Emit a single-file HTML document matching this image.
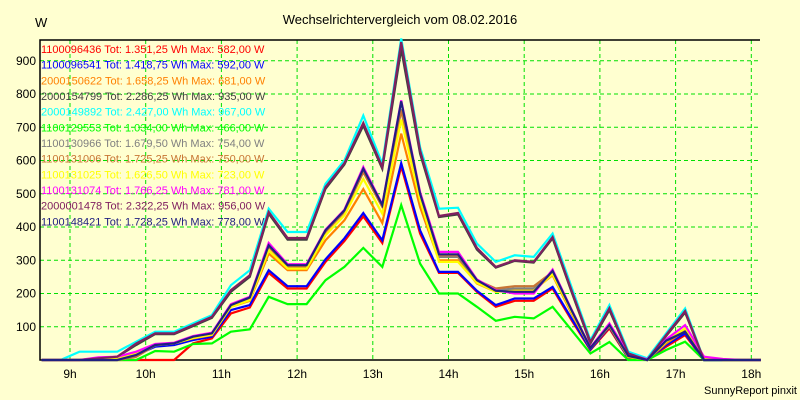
<!DOCTYPE html>
<html><head><meta charset="utf-8"><style>
body{margin:0;background:#ffffd0;}
svg{display:block;font-family:"Liberation Sans",sans-serif;}
</style></head><body>
<svg id="chart" width="800" height="400" viewBox="0 0 800 400">
<rect x="0" y="0" width="800" height="400" fill="#ffffd0"/>
<text x="400" y="24" text-anchor="middle" font-size="13" fill="#000">Wechselrichtervergleich vom 08.02.2016</text>
<text x="35" y="27" font-size="13" fill="#000">W</text>
<text x="797" y="394" text-anchor="end" font-size="11" fill="#000">SunnyReport pinxit</text>
<g id="grid"></g><g id="axes"></g><g id="series"></g><g id="legend"></g>
</svg>
<script>
const hourTicks=[9,10,11,12,13,14,15,16,17,18];
const yTicks=[100,200,300,400,500,600,700,800,900];
const tStart=8.625, tStep=0.25;
const names=["1100096436","1100096541","2000150622","2000154799","2000149892","1100129553","1100130966","1100131006","1100131025","1100131074","2000001478","1100148421"];
const totals=["1.351,25","1.418,75","1.658,25","2.286,25","2.427,00","1.034,00","1.679,50","1.725,25","1.626,50","1.766,25","2.322,25","1.728,25"];
const maxes=["582,00","592,00","681,00","935,00","967,00","466,00","754,00","750,00","723,00","781,00","956,00","778,00"];
const colors=["#ff0000","#0000ff","#ff8000","#404040","#00ffff","#00ff00","#808080","#c87533","#ffff00","#ff00ff","#802060","#202080"];
const sRed=[0,0,0,0,0,0,0,0,50,65,140,158,262,215,215,295,358,432,352,582,380,262,262,205,160,178,178,215,120,30,95,5,0,40,75,0,0,0,0];
const sBlue=[0,0,0,0,0,15,40,45,60,70,150,165,270,222,222,303,366,442,360,592,390,265,265,208,165,185,185,220,125,32,100,5,0,45,80,0,0,0,0];
const sOrange=[0,0,0,3,5,20,45,50,65,75,160,178,320,270,270,360,420,514,412,681,460,300,300,230,205,210,210,255,140,36,102,8,0,50,88,3,0,0,0];
const sDark=[0,0,0,5,10,45,78,78,102,127,205,250,440,362,362,515,588,705,575,935,620,430,438,332,278,298,293,366,205,50,150,18,0,72,143,0,0,0,0];
const sCyan=[0,0,25,25,25,55,85,85,110,135,225,270,455,385,385,530,600,735,590,967,640,455,458,350,295,315,310,380,220,60,165,25,5,80,155,0,0,0,0];
const sGreen=[0,0,0,0,0,0,27,25,48,50,85,92,190,168,168,240,280,337,280,466,290,200,200,160,118,130,125,160,90,20,54,0,0,30,55,0,0,0,0];
const sGray=[0,0,0,0,0,10,44,50,68,78,163,186,342,282,282,388,447,570,462,754,495,310,310,238,210,215,215,265,148,38,105,12,0,55,90,5,0,0,0];
const sBrown=[0,0,0,0,0,10,45,50,68,78,163,185,340,280,280,385,445,565,460,750,495,315,315,240,215,222,222,265,150,38,106,12,0,56,92,5,0,0,0];
const sYellow=[0,0,0,3,5,20,45,50,66,76,160,180,330,275,275,375,435,545,440,723,480,295,295,232,205,208,208,258,145,36,104,10,0,55,95,5,0,0,0];
const sMagenta=[0,0,0,8,10,25,48,52,72,82,168,190,352,288,288,392,452,580,468,781,505,325,325,242,210,200,200,272,152,38,110,18,2,62,105,10,3,0,0];
const sPurple=[0,0,0,5,10,50,80,80,105,130,210,255,445,367,367,520,592,713,580,956,630,433,442,337,280,300,295,370,210,54,156,20,0,75,147,0,0,0,0];
const sNavy=[0,0,0,0,0,15,45,50,70,80,165,188,345,285,285,390,450,575,466,778,500,318,318,240,208,205,205,268,150,36,105,12,0,58,85,0,0,0,0];
const allSeries=[sRed,sBlue,sOrange,sDark,sCyan,sGreen,sGray,sBrown,sYellow,sMagenta,sPurple,sNavy];

const NS="http://www.w3.org/2000/svg";
const X0=40,X1=760,Y0=40,Y1=360;
function xScale(t){return 70+(t-9)*75.7;}
function yScale(v){return 360-v*0.3325;}
function mk(tag,attrs,parent){const e=document.createElementNS(NS,tag);for(const k in attrs)e.setAttribute(k,attrs[k]);parent.appendChild(e);return e;}
const grid=document.getElementById('grid'),axes=document.getElementById('axes'),ser=document.getElementById('series'),leg=document.getElementById('legend');
yTicks.forEach(v=>{
  const l=mk('line',{x1:X0,x2:X1,y1:yScale(v),y2:yScale(v),stroke:'#00e000','stroke-dasharray':'4,3','stroke-width':1},grid);
  
  
  const t=mk('text',{x:36,y:yScale(v)+4,'text-anchor':'end','font-size':12,fill:'#000'},axes);
  t.textContent=v;
  
  
});
hourTicks.forEach(h=>{
  const x=xScale(h);
  const l=mk('line',{x1:x,x2:x,y1:Y0,y2:Y1,stroke:'#00e000','stroke-dasharray':'4,3','stroke-width':1},grid);
  
  
  const t=mk('text',{x:x,y:378,'text-anchor':'middle','font-size':12,fill:'#000'},axes);
  t.textContent=h+'h';
  
  
});
const ax=mk('path',{d:`M${X1} ${Y0}H${X0}V${Y1}H${X1}`,fill:'none',stroke:'#000','stroke-width':1.5},axes);


allSeries.forEach((s,si)=>{
  const pts=s.map((v,i)=>xScale(tStart+i*tStep).toFixed(1)+','+yScale(v).toFixed(1)).join(' ');
  const p=mk('polyline',{points:pts,fill:'none',stroke:colors[si],'stroke-width':2.2,'stroke-linejoin':'miter'},ser);
  
  
});
names.forEach((n,i)=>{
  const t=mk('text',{x:41,y:53+i*15.67,'font-size':11,fill:colors[i]},leg);
  t.textContent=n+' Tot: '+totals[i]+' Wh Max: '+maxes[i]+' W';
  
  
});
</script>
</body></html>
